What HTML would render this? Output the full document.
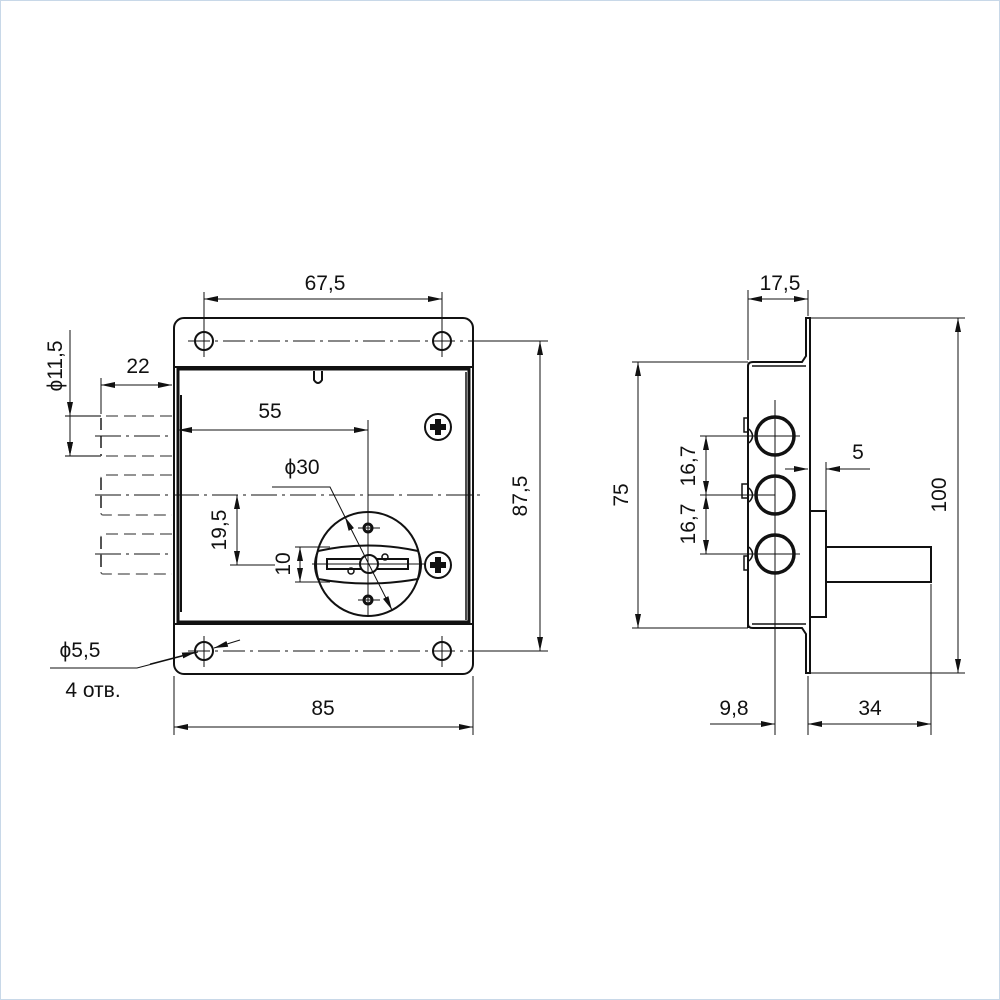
<!DOCTYPE html>
<html><head><meta charset="utf-8"><style>
html,body{margin:0;padding:0;background:#fff}
svg{display:block}
text{font-family:"Liberation Sans",sans-serif;font-size:21px;fill:#111}
</style></head><body>
<svg width="1000" height="1000" viewBox="0 0 1000 1000" xmlns="http://www.w3.org/2000/svg">
<defs>
<marker id="a" viewBox="0 0 14 6" refX="14" refY="3" markerWidth="14" markerHeight="6" orient="auto-start-reverse" markerUnits="userSpaceOnUse"><path d="M0,0 L14,3 L0,6 Z" fill="#111"/></marker>
</defs>
<rect x="0.5" y="0.5" width="999" height="999" fill="none" stroke="#c8d8e8" stroke-width="1"/>
<g fill="none" stroke="#111">
<rect x="174" y="318" width="299" height="356" rx="10" stroke-width="2"/>
<line x1="174" y1="367" x2="473" y2="367" stroke-width="2"/>
<line x1="174" y1="624" x2="473" y2="624" stroke-width="2"/>
<rect x="178" y="369" width="291" height="253" stroke-width="3"/>
<line x1="181" y1="395" x2="181" y2="612" stroke-width="2"/>
<line x1="466" y1="372" x2="466" y2="620" stroke-width="1.5"/>
<path d="M314,371 L314,380 Q318,386 322,380 L322,371" stroke-width="2"/>
<circle cx="204" cy="341" r="9" stroke-width="2"/>
<circle cx="442" cy="341" r="9" stroke-width="2"/>
<circle cx="204" cy="651" r="9" stroke-width="2"/>
<circle cx="442" cy="651" r="9" stroke-width="2"/>
<g stroke-width="1">
<line x1="204" y1="326" x2="204" y2="357"/><line x1="442" y1="326" x2="442" y2="357"/>
<line x1="204" y1="636" x2="204" y2="667"/><line x1="442" y1="636" x2="442" y2="667"/>
<line x1="188" y1="341" x2="545" y2="341" stroke-dasharray="22,5,3,5"/>
<line x1="188" y1="651" x2="545" y2="651" stroke-dasharray="22,5,3,5"/>
<line x1="95" y1="495" x2="480" y2="495" stroke-dasharray="26,5,3,5"/>
</g>
<circle cx="438" cy="427" r="13" stroke-width="2"/>
<circle cx="438" cy="565" r="13" stroke-width="2"/>
<path d="M435,419h6v5h5v6h-5v5h-6v-5h-5v-6h5z" fill="#111" stroke="none"/>
<path d="M435,557h6v5h5v6h-5v5h-6v-5h-5v-6h5z" fill="#111" stroke="none"/>
<circle cx="368" cy="564" r="52" stroke-width="2"/>
<path d="M318,551 Q368,540 418,551 Q424,565 418,579 Q368,588 318,579 Q312,565 318,551 Z" stroke-width="2"/>
<rect x="327" y="559" width="81" height="10" stroke-width="2"/>
<circle cx="369" cy="564" r="9" stroke-width="2" fill="#fff"/>
<circle cx="385" cy="557" r="3" stroke-width="1.5"/>
<circle cx="351" cy="571" r="3" stroke-width="1.5"/>
<circle cx="368" cy="528" r="4" stroke-width="3"/>
<circle cx="368" cy="600" r="4" stroke-width="3"/>
<g stroke-width="1">
<line x1="358" y1="528" x2="380" y2="528"/><line x1="358" y1="600" x2="380" y2="600"/>
<line x1="368" y1="420" x2="368" y2="616"/>
<line x1="312" y1="564" x2="425" y2="564"/>
</g>
<g stroke="#555" stroke-width="1.2" stroke-dasharray="12,6">
<line x1="101" y1="416" x2="65" y2="416" stroke-dasharray="none" stroke="#333"/>
<line x1="101" y1="456" x2="65" y2="456" stroke-dasharray="none" stroke="#333"/>
<line x1="172" y1="416" x2="101" y2="416"/>
<line x1="172" y1="456" x2="101" y2="456"/>
<path d="M101,418 V456" stroke-width="2"/>
<path d="M172,475 H103 Q101,475 101,478 V513 Q101,515 103,515 H172"/>
<path d="M101,478 V513" stroke-width="2"/>
<path d="M172,534 H103 Q101,534 101,537 V572 Q101,574 103,574 H172"/>
<path d="M101,537 V572" stroke-width="2"/>
</g>
<g stroke-width="1" stroke-dasharray="26,5,3,5">
<line x1="95" y1="436" x2="172" y2="436"/>
<line x1="95" y1="554" x2="172" y2="554"/>
</g>
<g stroke-width="1">
<line x1="204" y1="292" x2="204" y2="330"/><line x1="442" y1="292" x2="442" y2="330"/>
<line x1="204" y1="299" x2="442" y2="299" marker-start="url(#a)" marker-end="url(#a)"/>
<line x1="473" y1="341" x2="548" y2="341"/><line x1="473" y1="651" x2="548" y2="651"/>
<line x1="540" y1="341" x2="540" y2="651" marker-start="url(#a)" marker-end="url(#a)"/>
<line x1="174" y1="676" x2="174" y2="735"/><line x1="473" y1="676" x2="473" y2="735"/>
<line x1="174" y1="727" x2="473" y2="727" marker-start="url(#a)" marker-end="url(#a)"/>
<line x1="101" y1="378" x2="101" y2="414"/>
<line x1="101" y1="385" x2="172" y2="385" marker-start="url(#a)" marker-end="url(#a)"/>
<line x1="70" y1="330" x2="70" y2="416" marker-end="url(#a)"/>
<line x1="70" y1="456" x2="70" y2="416" marker-start="url(#a)" />
<line x1="70" y1="430" x2="70" y2="456" marker-end="url(#a)"/>
<line x1="178" y1="430" x2="368" y2="430" marker-start="url(#a)" marker-end="url(#a)"/>
<path d="M272,487 H330 L345,517" />
<line x1="345" y1="517" x2="392" y2="610" marker-start="url(#a)" marker-end="url(#a)"/>
<line x1="237" y1="495" x2="237" y2="565" marker-start="url(#a)" marker-end="url(#a)"/>
<line x1="230" y1="565" x2="275" y2="565"/>
<line x1="295" y1="547" x2="330" y2="547"/><line x1="295" y1="582" x2="330" y2="582"/>
<line x1="300" y1="547" x2="300" y2="582" marker-start="url(#a)" marker-end="url(#a)"/>
<path d="M50,668 H137 L198,652" />
<line x1="150" y1="664" x2="196" y2="652" marker-end="url(#a)"/>
<line x1="240" y1="640" x2="214" y2="648" marker-end="url(#a)"/>
</g>
<path d="M748,628 V366 Q748,362 753,362 H802 L806,356 V318 H810 V673 H806 V634 L802,628 H753 Q748,628 748,624" stroke-width="2"/>
<line x1="752" y1="366" x2="806" y2="366" stroke-width="1.5"/>
<line x1="752" y1="624" x2="806" y2="624" stroke-width="1.5"/>
<circle cx="775" cy="436" r="19" stroke-width="3.5"/>
<circle cx="775" cy="495" r="19" stroke-width="3.5"/>
<circle cx="775" cy="554" r="19" stroke-width="3.5"/>
<rect x="744" y="418" width="4" height="14" stroke-width="1.5"/>
<rect x="742" y="484" width="6" height="14" stroke-width="1.5"/>
<rect x="744" y="556" width="4" height="14" stroke-width="1.5"/>
<path d="M749,429 Q756,436 749,443 M749,547 Q756,554 749,561 M749,488 Q756,495 749,502" stroke-width="1.5"/>
<rect x="810" y="511" width="16" height="106" stroke-width="2"/>
<rect x="826" y="547" width="105" height="35" stroke-width="2"/>
<g stroke-width="1">
<line x1="775" y1="400" x2="775" y2="735"/>
<line x1="752" y1="436" x2="800" y2="436"/><line x1="752" y1="554" x2="800" y2="554"/>
<line x1="748" y1="290" x2="748" y2="360"/><line x1="808" y1="290" x2="808" y2="316"/>
<line x1="748" y1="299" x2="808" y2="299" marker-start="url(#a)" marker-end="url(#a)"/>
<line x1="632" y1="362" x2="748" y2="362"/><line x1="632" y1="628" x2="748" y2="628"/>
<line x1="638" y1="362" x2="638" y2="628" marker-start="url(#a)" marker-end="url(#a)"/>
<line x1="810" y1="318" x2="965" y2="318"/><line x1="810" y1="673" x2="965" y2="673"/>
<line x1="958" y1="318" x2="958" y2="673" marker-start="url(#a)" marker-end="url(#a)"/>
<line x1="700" y1="436" x2="775" y2="436"/><line x1="700" y1="495" x2="775" y2="495"/><line x1="700" y1="554" x2="775" y2="554"/>
<line x1="706" y1="436" x2="706" y2="495" marker-start="url(#a)" marker-end="url(#a)"/>
<line x1="706" y1="495" x2="706" y2="554" marker-start="url(#a)" marker-end="url(#a)"/>
<line x1="826" y1="462" x2="826" y2="511"/>
<line x1="785" y1="469" x2="808" y2="469" marker-end="url(#a)"/>
<line x1="870" y1="469" x2="826" y2="469" marker-end="url(#a)"/>
<line x1="808" y1="676" x2="808" y2="735"/><line x1="931" y1="584" x2="931" y2="735"/>
<line x1="710" y1="724" x2="775" y2="724" marker-end="url(#a)"/>
<line x1="808" y1="724" x2="931" y2="724" marker-start="url(#a)" marker-end="url(#a)"/>
</g>
</g>
<text x="325" y="290" text-anchor="middle">67,5</text>
<text x="270" y="418" text-anchor="middle">55</text>
<text x="302" y="474" text-anchor="middle">ϕ30</text>
<text x="138" y="373" text-anchor="middle">22</text>
<text x="323" y="715" text-anchor="middle">85</text>
<text x="80" y="657" text-anchor="middle">ϕ5,5</text>
<text x="93" y="697" text-anchor="middle">4 отв.</text>
<text transform="translate(527,496) rotate(-90)" text-anchor="middle">87,5</text>
<text transform="translate(226,530) rotate(-90)" text-anchor="middle">19,5</text>
<text transform="translate(290,564) rotate(-90)" text-anchor="middle">10</text>
<text transform="translate(62,366) rotate(-90)" text-anchor="middle">ϕ11,5</text>
<text x="780" y="290" text-anchor="middle">17,5</text>
<text x="858" y="459" text-anchor="middle">5</text>
<text x="734" y="715" text-anchor="middle">9,8</text>
<text x="870" y="715" text-anchor="middle">34</text>
<text transform="translate(628,495) rotate(-90)" text-anchor="middle">75</text>
<text transform="translate(946,495) rotate(-90)" text-anchor="middle">100</text>
<text transform="translate(695,466) rotate(-90)" text-anchor="middle">16,7</text>
<text transform="translate(695,524) rotate(-90)" text-anchor="middle">16,7</text>
</svg>
</body></html>
